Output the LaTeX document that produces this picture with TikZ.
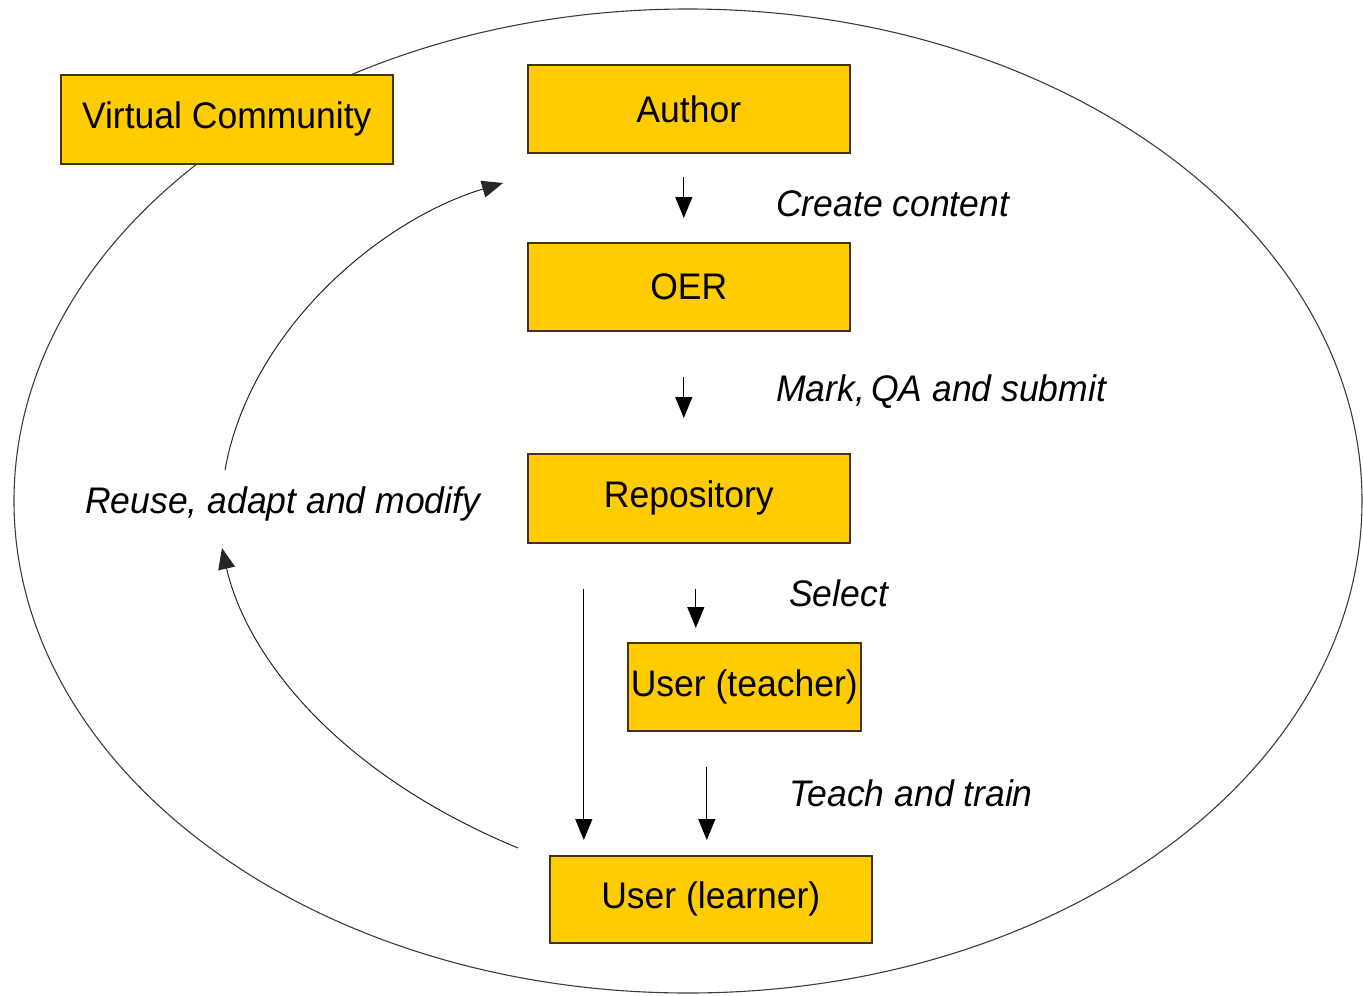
\documentclass[tikz,border=0pt]{standalone}
\usepackage{fontspec}
\setmainfont{Liberation Sans}[FakeStretch=0.96]
\usetikzlibrary{arrows.meta}
\definecolor{boxfill}{RGB}{255,204,0}
\definecolor{boxline}{RGB}{70,50,20}
\definecolor{ringline}{RGB}{60,60,60}
\tikzset{
  box/.style={draw=boxline, line width=1.6pt, fill=boxfill, inner sep=0pt, anchor=north west,
              font=\fontsize{37}{42}\selectfont},
  lbl/.style={anchor=west, inner sep=0pt, font=\fontsize{37}{42}\selectfont\itshape},
  tip/.style={-{Triangle[length=21pt,width=17pt]}},
  arr/.style={draw=black, line width=1.2pt, tip},
  curv/.style={draw=black!85, line width=1pt, tip},
}
\begin{document}
\begin{tikzpicture}[x=1pt,y=-1pt]
\useasboundingbox (0,0) rectangle (1363,996);
% outer ellipse
\draw[ringline, line width=1.1pt] (688,501) ellipse [x radius=674, y radius=492];
% boxes
\node[box, minimum width=332pt, minimum height=89pt] (vc) at (60,74) {Virtual Community};
\node[box, minimum width=322pt, minimum height=88pt] (author) at (527,64) {Author};
\node[box, minimum width=322pt, minimum height=88pt] (oer) at (527,242) {OER};
\node[box, minimum width=322pt, minimum height=89pt] (repo) at (527,453) {Repository};
\node[box, minimum width=233pt, minimum height=88pt] (teacher) at (627,642) {User (teacher)};
\node[box, minimum width=322pt, minimum height=87pt] (learner) at (549,855) {User (learner)};
% labels
\node[lbl] (l1) at (776,204) {Create content};
\node[lbl] (l2) at (776,392) {Mark,\,QA and submit};
\node[lbl] (l3) at (789,593) {Select};
\node[lbl] (l4) at (789,793) {Teach and train};
\node[lbl] (l5) at (85,504) {Reuse, adapt and modify};
% straight arrows
\draw[arr, shorten <=23pt, shorten >=24pt] ([xshift=-5pt]author.south) -- ([xshift=-5pt]oer.north);
\draw[arr, shorten <=45pt, shorten >=35pt] ([xshift=-5pt]oer.south) -- ([xshift=-5pt]repo.north);
\draw[arr, shorten <=45pt, shorten >=14pt] ([xshift=7pt]repo.south) -- ([xshift=7pt]repo.south |- teacher.north);
\draw[arr, shorten <=45pt, shorten >=15pt] ([xshift=-105pt]repo.south) -- ([xshift=-105pt]repo.south |- learner.north);
\draw[arr, shorten <=35pt, shorten >=15pt] ([xshift=-37.5pt]teacher.south) -- ([xshift=-37.5pt]teacher.south |- learner.north);
% curved cycle arrows
\coordinate (c1) at (518,848);
\coordinate (c2) at (222,548);
\coordinate (c3) at (225,470);
\coordinate (c4) at (503,183);
\draw[curv] (c1) .. controls (330,770) and (245,650) .. (c2);
\draw[curv] (c3) .. controls (250,330) and (380,220) .. (c4);
\end{tikzpicture}
\end{document}
